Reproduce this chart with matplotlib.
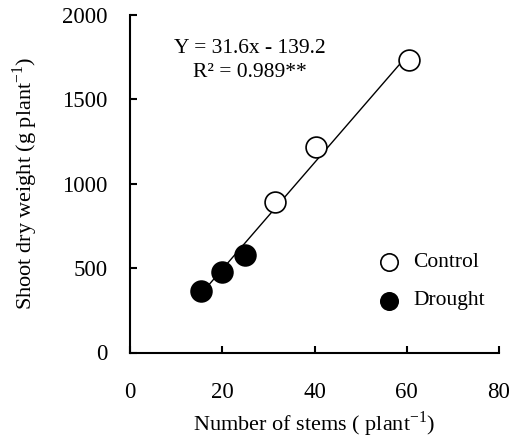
import numpy as np
import matplotlib
matplotlib.use('Agg')
import matplotlib.pyplot as plt

plt.rcParams['font.family'] = ['Liberation Serif', 'DejaVu Serif']
plt.rcParams['mathtext.fontset'] = 'custom'
plt.rcParams['mathtext.rm'] = 'Liberation Serif'

# data
control_x = [31.4, 40.3, 60.5]
control_y = [890, 1217, 1733]
drought_x = [15.4, 19.9, 24.9]
drought_y = [362, 475, 576]
slope = 31.6
intercept = -139.2

fig = plt.figure(figsize=(5.17, 4.41), dpi=100)
ax = fig.add_axes([130 / 517, 1 - 352.5 / 441, 369 / 517, 337.5 / 441])

# regression line over the data range
all_x = np.array(control_x + drought_x)
line_x = np.array([all_x.min(), all_x.max()])
ax.plot(line_x, slope * line_x + intercept, color='black', lw=1.0, zorder=1)

ax.plot(control_x, control_y, 'o', ms=15, mfc='white', mec='black', mew=1.2,
        ls='none', zorder=2)
ax.plot(drought_x, drought_y, 'o', ms=15, mfc='black', mec='black', mew=1.2,
        ls='none', zorder=2)

ax.set_xlim(0, 80)
ax.set_ylim(0, 2000)
ax.set_xticks([0, 20, 40, 60, 80])
ax.set_yticks([0, 500, 1000, 1500, 2000])

for s in ['top', 'right']:
    ax.spines[s].set_visible(False)
for s in ['left', 'bottom']:
    ax.spines[s].set_linewidth(1.5)
ax.tick_params(direction='in', length=5, width=1.5, labelsize=16.5)
ax.tick_params(axis='x', pad=21)
ax.tick_params(axis='y', pad=16)

ax.set_xlabel(r'Number of stems ( plant$^{\mathregular{-1}}$)', fontsize=16)
ax.set_ylabel(r'Shoot dry weight (g plant$^{\mathregular{-1}}$)', fontsize=16)
ax.xaxis.label.set_va('center')
ax.yaxis.label.set_va('center')
ax.xaxis.set_label_coords(0.5, -0.212)
ax.yaxis.set_label_coords(-0.285, 0.5)

ax.text(0.325, 0.902, 'Y = 31.6x - 139.2', transform=ax.transAxes,
        ha='center', va='center', fontsize=15.5)
ax.text(0.325, 0.831, 'R² = 0.989**', transform=ax.transAxes,
        ha='center', va='center', fontsize=15.5)

# legend drawn by hand to match the placement
legend_items = [('Control', 'white', 0.268), ('Drought', 'black', 0.153)]
for label, face, ypos in legend_items:
    ax.plot([0.702], [ypos], 'o', ms=12.5, mfc=face, mec='black', mew=1.2,
            transform=ax.transAxes, clip_on=False)
    ax.text(0.767, ypos, label, transform=ax.transAxes, ha='left',
            va='center', fontsize=15.5)

fig.savefig('out.png', dpi=100)
